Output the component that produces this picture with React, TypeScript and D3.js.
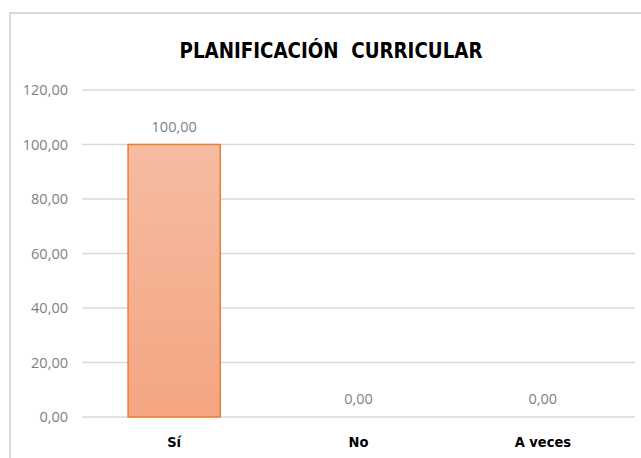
import React from 'react';
import * as d3 from 'd3';

// Chart data
const categories = ['Sí', 'No', 'A veces'];
const values = [100, 0, 0];
const yTicks = [0, 20, 40, 60, 80, 100, 120];
const chartTitle = 'PLANIFICACIÓN  CURRICULAR';

const W = 641;
const H = 458;
const margin = { top: 90, right: 6, bottom: 41, left: 82 };

const fmt = (v: number) => v.toFixed(2).replace('.', ',');

const numFont = '"Open Sans", "Noto Sans", sans-serif';
const boldFont = '"DejaVu Sans Condensed", "DejaVu Sans", sans-serif';

const App: React.FC = () => {
  const x = d3
    .scaleBand()
    .domain(categories)
    .range([margin.left, W - margin.right])
    .paddingInner(0.5)
    .paddingOuter(0.25);

  const y = d3
    .scaleLinear()
    .domain([0, 120])
    .range([H - margin.bottom, margin.top]);

  return (
    <svg
      width={W}
      height={H}
      style={{ position: 'absolute', left: 0, top: 0, background: '#fff' }}
    >
      <defs>
        <linearGradient id="barFill" x1="0" y1="0" x2="0" y2="1">
          <stop offset="0%" stopColor="#f6bca1" />
          <stop offset="100%" stopColor="#f4a582" />
        </linearGradient>
      </defs>

      {/* chart frame */}
      <rect x={10} y={13} width={W + 10} height={H + 10} fill="#fff" stroke="#d9d9d9" strokeWidth={2} />

      <text
        x={331}
        y={58}
        textAnchor="middle"
        fontFamily={boldFont}
        fontWeight="bold"
        fontSize={21.5}
        fill="#000"
        textLength={303}
        lengthAdjust="spacingAndGlyphs"
        style={{ whiteSpace: 'pre' }}
      >
        {chartTitle}
      </text>

      {/* grid + y labels */}
      {yTicks.map(t => (
        <g key={t}>
          <line x1={margin.left} x2={W - margin.right} y1={y(t)} y2={y(t)} stroke="#d9d9d9" strokeWidth={1.3} />
          <text
            x={68}
            y={y(t)}
            dy="0.36em"
            textAnchor="end"
            fontFamily={numFont}
            fontSize={14.5}
            fill="#7f7f7f"
          >
            {fmt(t)}
          </text>
        </g>
      ))}

      {/* bars */}
      {categories.map((c, i) => {
        const v = values[i];
        const bx = x(c) || 0;
        return (
          <g key={c}>
            {v > 0 && (
              <rect
                x={bx}
                y={y(v)}
                width={x.bandwidth()}
                height={y(0) - y(v)}
                fill="url(#barFill)"
                stroke="#ed7d31"
                strokeWidth={1.5}
              />
            )}
            <text
              x={bx + x.bandwidth() / 2}
              y={y(v) - 13}
              textAnchor="middle"
              fontFamily={numFont}
              fontSize={14.5}
              fill="#7f7f7f"
            >
              {fmt(v)}
            </text>
            <text
              x={bx + x.bandwidth() / 2}
              y={447}
              textAnchor="middle"
              fontFamily={boldFont}
              fontWeight="bold"
              fontSize={14.5}
              fill="#000"
            >
              {c}
            </text>
          </g>
        );
      })}
    </svg>
  );
};

export default App;
